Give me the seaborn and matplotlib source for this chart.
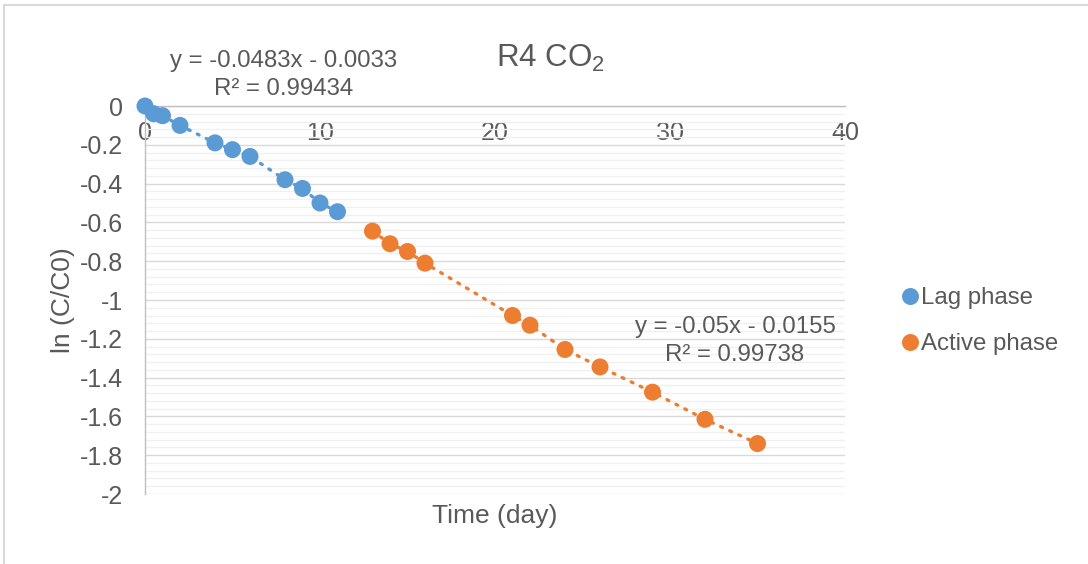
import matplotlib
matplotlib.use('Agg')
import matplotlib.pyplot as plt
from matplotlib.patches import Rectangle
from matplotlib.ticker import MultipleLocator
import pandas as pd
import seaborn as sns

# 读图得到的数据
lag_day = [0, 0.5, 1, 2, 4, 5, 6, 8, 9, 10, 11]
lag_lnc = [0, -0.04, -0.05, -0.10, -0.19, -0.225, -0.26, -0.38, -0.425, -0.50, -0.545]
active_day = [13, 14, 15, 16, 21, 22, 24, 26, 29, 32, 35]
active_lnc = [-0.645, -0.71, -0.75, -0.81, -1.08, -1.13, -1.255, -1.345, -1.475, -1.615, -1.74]
phase_names = ['Lag phase', 'Active phase']
phase_colors = ['#5B9BD5', '#ED7D31']
lag_eq = ['y = -0.0483x - 0.0033', 'R² = 0.99434']
active_eq = ['y = -0.05x - 0.0155', 'R² = 0.99738']

sns.set_theme(style='white')
plt.rcParams['font.family'] = ['Liberation Sans', 'DejaVu Sans']
plt.rcParams['mathtext.fontset'] = 'custom'
plt.rcParams['mathtext.rm'] = 'Liberation Sans'
TXT = '#595959'

df = pd.concat([
    pd.DataFrame({'day': lag_day, 'lnc': lag_lnc, 'phase': phase_names[0]}),
    pd.DataFrame({'day': active_day, 'lnc': active_lnc, 'phase': phase_names[1]}),
], ignore_index=True)
palette = dict(zip(phase_names, phase_colors))

fig = plt.figure(figsize=(10.88, 5.64), dpi=100)
ax = fig.add_axes([145 / 1088, 1 - 494 / 564, 700 / 1088, 388 / 564])

# 虚线趋势
for name in phase_names:
    sub = df[df['phase'] == name]
    sns.lineplot(data=sub, x='day', y='lnc', ax=ax, color=palette[name],
                 linewidth=2.4, linestyle=(0, (0.6, 2.4)), legend=False,
                 sort=True, estimator=None, clip_on=False, zorder=3)
    ax.lines[-1].set_dash_capstyle('round')

sns.scatterplot(data=df, x='day', y='lnc', hue='phase', palette=palette,
                s=150, edgecolor='none', ax=ax, clip_on=False, zorder=4)

ax.set_xlim(0, 40)
ax.set_ylim(-2, 0)
ax.xaxis.set_major_locator(MultipleLocator(10))
ax.yaxis.set_major_locator(MultipleLocator(0.2))
ax.yaxis.set_minor_locator(MultipleLocator(0.04))
ax.set_yticklabels([f'{v:g}' for v in ax.get_yticks()])
ax.grid(axis='y', which='major', color='#d9d9d9', linewidth=1.0)
ax.grid(axis='y', which='minor', color='#f0f0f0', linewidth=1.0)
ax.set_axisbelow(True)

for s in ['top', 'right']:
    ax.spines[s].set_visible(False)
ax.spines['bottom'].set_position(('data', 0))
for s in ['bottom', 'left']:
    ax.spines[s].set_color('#bfbfbf')
    ax.spines[s].set_linewidth(1.0)
ax.tick_params(axis='both', which='major', length=6, width=1, color='#bfbfbf',
               labelsize=18, labelcolor=TXT, direction='out')
ax.tick_params(axis='y', which='minor', length=0)
ax.tick_params(axis='x', pad=5)
ax.tick_params(axis='y', pad=10)
ax.set_xlabel('')
ax.set_ylabel('')

fig.text(495 / 1088, 1 - 516 / 564, 'Time (day)', ha='center', va='center',
         fontsize=19, color=TXT)
fig.text(63 / 1088, 1 - 300 / 564, 'ln (C/C0)', ha='center', va='center',
         rotation=90, fontsize=19, color=TXT)
fig.text(550 / 1088, 1 - 58 / 564, r'R4 CO$_\mathregular{2}$', ha='center',
         va='center', fontsize=22.5, color=TXT)

fig.text(284 / 1088, 1 - 61 / 564, lag_eq[0], ha='center', va='center',
         fontsize=17.3, color=TXT)
fig.text(284 / 1088, 1 - 89 / 564, lag_eq[1], ha='center', va='center',
         fontsize=17.3, color=TXT)
fig.text(735 / 1088, 1 - 327 / 564, active_eq[0], ha='center', va='center',
         fontsize=17.3, color=TXT)
fig.text(735 / 1088, 1 - 355 / 564, active_eq[1], ha='center', va='center',
         fontsize=17.3, color=TXT)

leg = ax.legend(loc='center left', bbox_to_anchor=(903 / 1088, 1 - 321 / 564),
                bbox_transform=fig.transFigure, frameon=False, fontsize=17.3,
                handlelength=0.6, handletextpad=0.15, labelspacing=1.0,
                borderpad=0, borderaxespad=0, markerscale=1.0)
for t in leg.get_texts():
    t.set_color(TXT)

# 外框
fig.add_artist(Rectangle((4 / 1088, -0.2), 1.2, 1.2 - 5 / 564,
                         transform=fig.transFigure, fill=False,
                         edgecolor='#d9d9d9', linewidth=1.5))

fig.savefig('out.png', dpi=100)
plt.close(fig)
